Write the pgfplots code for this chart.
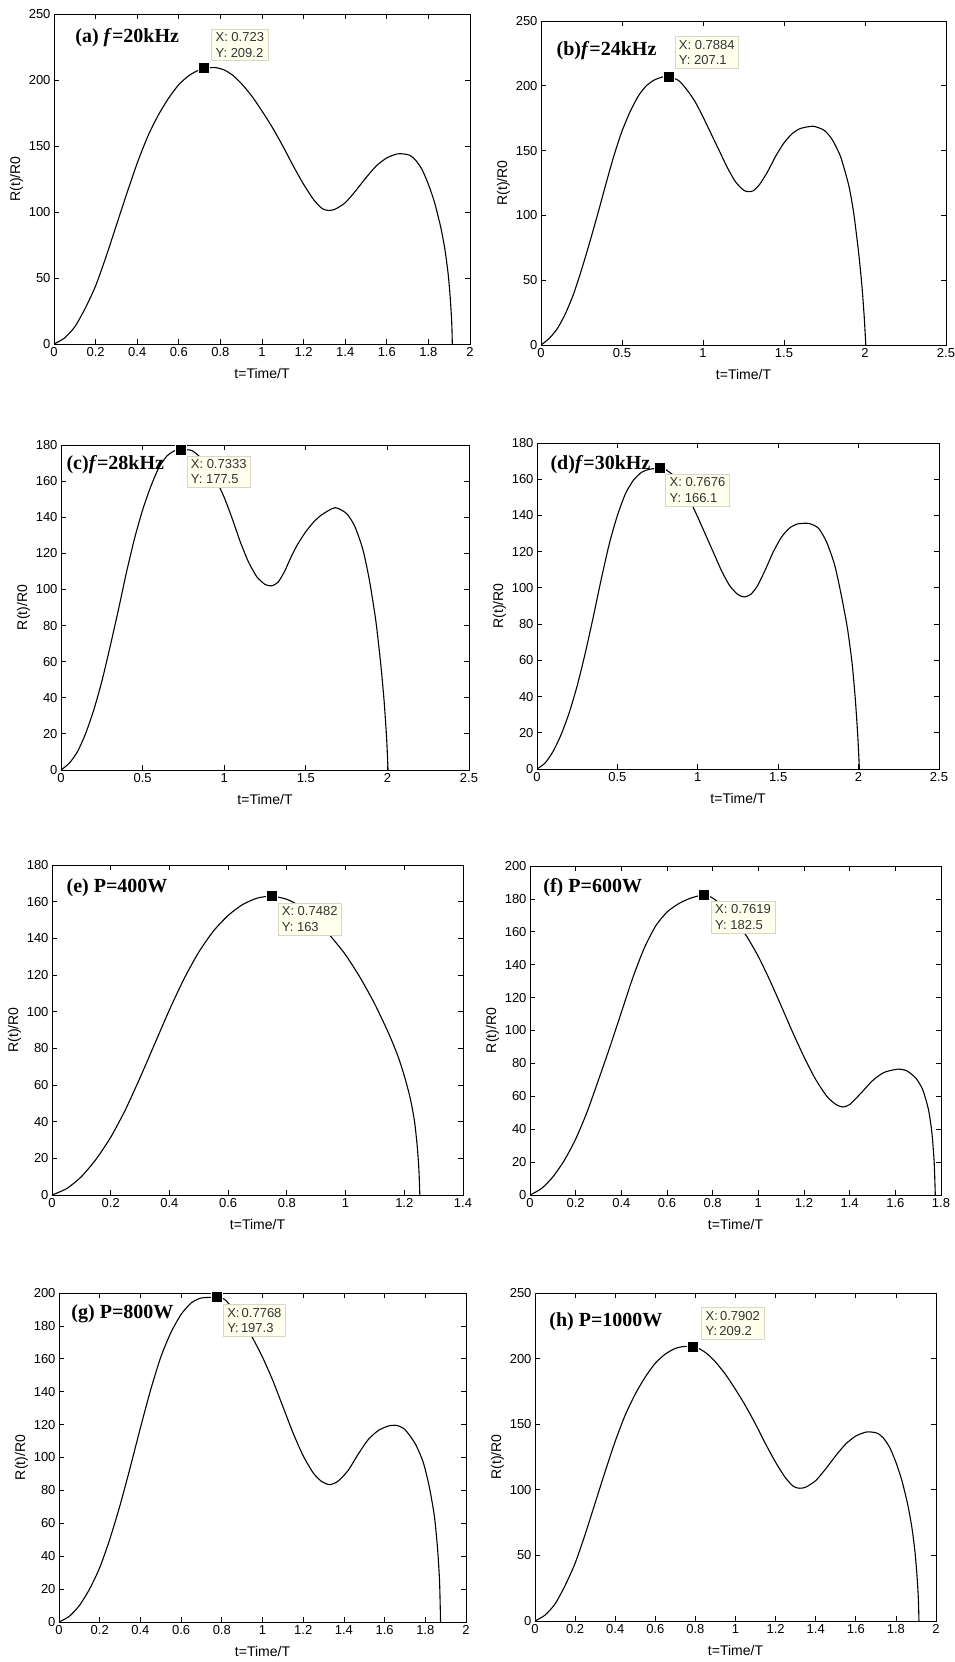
\documentclass[border=0pt]{standalone}
\usepackage{fontspec}
\setmainfont{Liberation Sans}
\newfontfamily\timesfont{Liberation Serif}
\usepackage{pgfplots}
\usepackage{pgfplotstable}
\pgfplotsset{compat=1.18}

\definecolor{tipfill}{HTML}{FFFFEE}
\definecolor{tipdraw}{HTML}{D9D6C3}
\definecolor{tiptext}{HTML}{333333}

% R(t)/R0 curves
\pgfplotstableread{
x y
0 0
0.05 4.5
0.1 13
0.15 27
0.2 44
0.25 66
0.3 90
0.35 114
0.4 137
0.45 157
0.5 173
0.55 186
0.6 196.5
0.65 203.5
0.7 207.8
0.74 209.2
0.78 209.3
0.82 207.5
0.86 203.5
0.9 197.5
0.95 188
1.0 176.5
1.05 164
1.1 150
1.15 135
1.2 121
1.25 109
1.29 102.5
1.32 101.2
1.35 102
1.4 107
1.45 116
1.5 126
1.55 135
1.6 141
1.65 144
1.68 144
1.71 143
1.74 139
1.77 132
1.8 121
1.83 107
1.86 88
1.88 71
1.895 53
1.905 35
1.912 17
1.915 0
}\tabA

\pgfplotstableread{
x y
0 0
0.05 5
0.1 12.5
0.15 24
0.2 39
0.25 58
0.3 79
0.35 101
0.4 124
0.45 146
0.5 165
0.55 180
0.6 192
0.65 200
0.7 204.5
0.75 206.8
0.79 207.1
0.85 204
0.9 197
0.95 188
1.0 176
1.05 163
1.1 150
1.15 137
1.2 126
1.25 119.5
1.28 118.3
1.31 119
1.35 124
1.4 134
1.45 146
1.5 156
1.55 163
1.6 167
1.68 168.8
1.75 165.5
1.8 158
1.85 145
1.9 123
1.93 102
1.96 72
1.98 47
1.995 22
2.005 0
}\tabB

\pgfplotstableread{
x y
0 0
0.05 3.7
0.1 10
0.15 20
0.2 33
0.25 49
0.3 68
0.35 88
0.4 109
0.45 128
0.5 144
0.55 157
0.6 167.5
0.65 174
0.7 177
0.7333 177.5
0.8 177
0.85 173.5
0.9 168
0.95 160.6
1.0 151
1.05 139
1.1 126
1.15 115
1.2 107
1.25 102.8
1.29 102
1.33 104
1.37 110
1.41 118
1.45 125
1.5 132
1.55 137.5
1.6 141.5
1.68 145.3
1.75 142
1.8 135
1.85 122
1.89 105
1.93 82
1.96 58
1.98 38
1.995 18
2.004 0
}\tabC

\pgfplotstableread{
x y
0 0
0.05 3.3
0.1 9.7
0.15 19
0.2 31
0.25 46
0.3 64
0.35 84
0.4 105
0.45 124.5
0.5 140
0.55 152
0.6 159.5
0.65 163.8
0.7 165.5
0.7676 166.1
0.8 165.3
0.85 162
0.9 156.5
0.95 148.4
1.0 139
1.05 129
1.1 119
1.15 109
1.2 101
1.25 96.3
1.29 95
1.33 96.5
1.37 101
1.42 110
1.47 120
1.52 128
1.57 133
1.62 135.3
1.69 135.6
1.75 133
1.8 125.5
1.85 113
1.89 97
1.93 78
1.96 58
1.98 38
1.995 18
2.005 0
}\tabD

\pgfplotstableread{
x y
0 0
0.05 3.5
0.1 10
0.15 19.5
0.2 31.5
0.25 46.5
0.3 64
0.35 82.5
0.4 101
0.45 118
0.5 132.5
0.55 144
0.6 152.5
0.65 158.5
0.7 162
0.7482 163
0.8 161.3
0.85 157
0.9 150
0.95 141
1.0 131
1.05 118.5
1.1 104
1.15 87
1.18 75
1.2 65
1.22 53
1.235 40
1.245 25
1.25 13
1.253 0
}\tabE

\pgfplotstableread{
x y
0 0
0.05 3.9
0.1 11
0.15 21
0.2 34
0.25 50.5
0.3 70
0.35 90
0.4 111
0.45 132
0.5 150
0.55 163.5
0.6 172
0.65 177
0.7 180.3
0.7619 182.5
0.8 180.5
0.85 175
0.9 167
0.95 157
1.0 145
1.05 130.6
1.1 115
1.15 99
1.2 84
1.25 70.5
1.3 60
1.34 55
1.37 53.5
1.4 55
1.45 62
1.5 69.5
1.55 74.5
1.61 76.5
1.65 75.5
1.69 71
1.72 64
1.745 52
1.76 38
1.77 20
1.775 0
}\tabF

\pgfplotstableread{
x y
0 0
0.05 3.4
0.1 10
0.15 20
0.2 33
0.25 50.5
0.3 71
0.35 94
0.4 118
0.45 141
0.5 161
0.55 176
0.6 187
0.65 194
0.7 197
0.7768 197.3
0.82 195.5
0.9 183
0.95 173
1.0 161
1.05 147
1.1 131
1.15 115
1.2 101
1.25 90.5
1.29 85.5
1.33 83.5
1.37 85.5
1.42 92
1.47 102
1.52 111
1.57 116.5
1.62 119.2
1.66 119.5
1.7 117
1.75 108.5
1.79 97
1.82 82
1.845 64
1.86 45
1.87 25
1.875 0
}\tabG

\pgfplotsset{
  panel/.style={
    scale only axis,
    anchor=south west,
    xmin=0, ymin=0,
    axis line style={line width=0.8pt},
    every tick/.style={black, line width=0.8pt},
    major tick length=5pt,
    tick align=inside,
    tick label style={font=\fontsize{13}{15}\selectfont},
    label style={font=\fontsize{14}{16}\selectfont},
    /pgf/number format/assume math mode=true,
    scaled ticks=false,
    xlabel={t=Time/T},
    ylabel={R(t)/R0},
    ylabel shift=-1pt,
    xlabel shift=5pt,
  },
  curve/.style={black, line width=1.1pt, smooth, tension=0.4, no marks},
  tip/.style={only marks, mark=square*, mark size=5.5pt,
    mark options={fill=black, draw=white, line width=1pt}},
}
\tikzset{
  tipbox/.style={fill=tipfill, draw=tipdraw, text=tiptext, align=left,
    font=\fontsize{13}{15.5}\selectfont, inner xsep=4pt, inner ysep=3.5pt},
  ttl/.style={anchor=base west, font=\timesfont\bfseries\fontsize{20}{24}\selectfont},
}

\begin{document}
\begin{tikzpicture}
\useasboundingbox (0,0) rectangle (955pt,-1662pt);

% (a)
\begin{axis}[panel, at={(54pt,-344pt)}, width=416pt, height=330pt,
  xmax=2, ymax=250,
  xtick={0,0.2,0.4,0.6,0.8,1,1.2,1.4,1.6,1.8,2},
  ytick={0,50,100,150,200,250}]
\addplot[curve] table {\tabA};
\addplot[tip] coordinates {(0.723,209.2)};
\node[tipbox, anchor=south west, xshift=7pt, yshift=7pt] at (axis cs:0.723,209.2) {X: 0.723\\Y: 209.2};
\node[ttl] at (rel axis cs:0.043,0.915) {(a) \textit{f}=20kHz};
\end{axis}

% (b)
\begin{axis}[panel, at={(541pt,-345pt)}, width=405pt, height=324pt,
  xmax=2.5, ymax=250,
  xtick={0,0.5,1,1.5,2,2.5},
  ytick={0,50,100,150,200,250}]
\addplot[curve] table {\tabB};
\addplot[tip] coordinates {(0.7884,207.1)};
\node[tipbox, anchor=south west, xshift=6pt, yshift=8pt] at (axis cs:0.7884,207.1) {X: 0.7884\\Y: 207.1};
\node[ttl] at (rel axis cs:0.030,0.895) {(b)\textit{f}=24kHz};
\end{axis}

% (c)
\begin{axis}[panel, at={(61pt,-770pt)}, width=408pt, height=325pt,
  xmax=2.5, ymax=180,
  xtick={0,0.5,1,1.5,2,2.5},
  ytick={0,20,40,60,80,100,120,140,160,180}]
\addplot[curve] table {\tabC};
\addplot[tip] coordinates {(0.7333,177.5)};
\node[tipbox, anchor=north west, xshift=6pt, yshift=-6pt] at (axis cs:0.7333,177.5) {X: 0.7333\\Y: 177.5};
\node[ttl] at (rel axis cs:0.005,0.926) {(c)\textit{f}=28kHz};
\end{axis}

% (d)
\begin{axis}[panel, at={(537pt,-769pt)}, width=402pt, height=326pt,
  xmax=2.5, ymax=180,
  xtick={0,0.5,1,1.5,2,2.5},
  ytick={0,20,40,60,80,100,120,140,160,180}]
\addplot[curve] table {\tabD};
\addplot[tip] coordinates {(0.7676,166.1)};
\node[tipbox, anchor=north west, xshift=5pt, yshift=-6pt] at (axis cs:0.7676,166.1) {X: 0.7676\\Y: 166.1};
\node[ttl] at (rel axis cs:0.025,0.920) {(d)\textit{f}=30kHz};
\end{axis}

% (e)
\begin{axis}[panel, at={(52pt,-1195pt)}, width=411pt, height=330pt,
  xmax=1.4, ymax=180,
  xtick={0,0.2,0.4,0.6,0.8,1,1.2,1.4},
  ytick={0,20,40,60,80,100,120,140,160,180}]
\addplot[curve] table {\tabE};
\addplot[tip] coordinates {(0.7482,163)};
\node[tipbox, anchor=north west, xshift=6pt, yshift=-7pt] at (axis cs:0.7482,163) {X: 0.7482\\Y: 163};
\node[ttl] at (rel axis cs:0.027,0.918) {(e) P=400W};
\end{axis}

% (f)
\begin{axis}[panel, at={(530pt,-1195pt)}, width=411pt, height=329pt,
  xmax=1.8, ymax=200,
  xtick={0,0.2,0.4,0.6,0.8,1,1.2,1.4,1.6,1.8},
  ytick={0,20,40,60,80,100,120,140,160,180,200}]
\addplot[curve] table {\tabF};
\addplot[tip] coordinates {(0.7619,182.5)};
\node[tipbox, anchor=north west, xshift=7pt, yshift=-6pt] at (axis cs:0.7619,182.5) {X: 0.7619\\Y: 182.5};
\node[ttl] at (rel axis cs:0.024,0.921) {(f) P=600W};
\end{axis}

% (g)
\begin{axis}[panel, at={(59pt,-1622pt)}, width=407pt, height=329pt,
  xmax=2, ymax=200,
  xtick={0,0.2,0.4,0.6,0.8,1,1.2,1.4,1.6,1.8,2},
  ytick={0,20,40,60,80,100,120,140,160,180,200}]
\addplot[curve] table {\tabG};
\addplot[tip] coordinates {(0.7768,197.3)};
\node[tipbox, anchor=north west, xshift=6pt, yshift=-7pt] at (axis cs:0.7768,197.3) {X:\,0.7768\\Y:\,197.3};
\node[ttl] at (rel axis cs:0.022,0.924) {(g) P=800W};
\end{axis}

% (h)
\begin{axis}[panel, at={(535pt,-1621pt)}, width=401pt, height=328pt,
  xmax=2, ymax=250,
  xtick={0,0.2,0.4,0.6,0.8,1,1.2,1.4,1.6,1.8,2},
  ytick={0,50,100,150,200,250}]
\addplot[curve] table {\tabA};
\addplot[tip] coordinates {(0.7902,209.2)};
\node[tipbox, anchor=south west, xshift=8pt, yshift=7pt] at (axis cs:0.7902,209.2) {X:\,0.7902\\Y:\,209.2};
\node[ttl] at (rel axis cs:0.027,0.899) {(h) P=1000W};
\end{axis}
\end{tikzpicture}
\end{document}
